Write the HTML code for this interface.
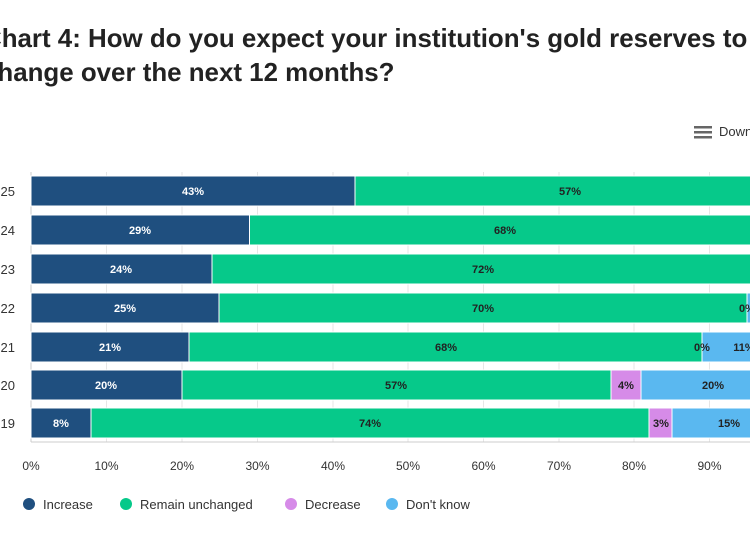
<!DOCTYPE html>
<html><head><meta charset="utf-8"><style>
body{margin:0;width:750px;height:536px;overflow:hidden;background:#fff;font-family:"Liberation Sans",Arial,sans-serif}
</style></head><body>
<svg width="750" height="536" xmlns="http://www.w3.org/2000/svg" font-family="Liberation Sans, Arial, sans-serif">
<text x="-17" y="47" font-size="25.9" font-weight="bold" fill="#222">Chart 4: How do you expect your institution's gold reserves to</text>
<text x="-17" y="81" font-size="25.9" font-weight="bold" fill="#222">change over the next 12 months?</text>
<g fill="#666"><rect x="694" y="126" width="18" height="2.5"/><rect x="694" y="131" width="18" height="2.5"/><rect x="694" y="136" width="18" height="2.5"/></g>
<text x="719" y="136" font-size="13" fill="#333">Download</text>
<g stroke="#e6e6e6" stroke-width="1">
<line x1="106.5" y1="172" x2="106.5" y2="442"/><line x1="182" y1="172" x2="182" y2="442"/><line x1="257.5" y1="172" x2="257.5" y2="442"/><line x1="333" y1="172" x2="333" y2="442"/><line x1="408" y1="172" x2="408" y2="442"/><line x1="483.5" y1="172" x2="483.5" y2="442"/><line x1="559" y1="172" x2="559" y2="442"/><line x1="634" y1="172" x2="634" y2="442"/><line x1="709.5" y1="172" x2="709.5" y2="442"/>
</g>
<line x1="31" y1="172" x2="31" y2="442" stroke="#ccc"/>
<line x1="31" y1="442" x2="750" y2="442" stroke="#ccc"/>
<g stroke="#fff" stroke-width="1">
<rect x="31" y="176" width="324" height="30" fill="#1f4f7f"/><rect x="355" y="176" width="430" height="30" fill="#06c98a"/>
<rect x="31" y="215" width="218.5" height="30" fill="#1f4f7f"/><rect x="249.5" y="215" width="512" height="30" fill="#06c98a"/><rect x="761.5" y="215" width="30" height="30" fill="#5ab8f0"/>
<rect x="31" y="254" width="181" height="30" fill="#1f4f7f"/><rect x="212" y="254" width="542" height="30" fill="#06c98a"/>
<rect x="31" y="293" width="188" height="30" fill="#1f4f7f"/><rect x="219" y="293" width="528" height="30" fill="#06c98a"/><rect x="747" y="293" width="40" height="30" fill="#5ab8f0"/>
<rect x="31" y="332" width="158" height="30" fill="#1f4f7f"/><rect x="189" y="332" width="513" height="30" fill="#06c98a"/><rect x="702" y="332" width="85" height="30" fill="#5ab8f0"/>
<rect x="31" y="370" width="151" height="30" fill="#1f4f7f"/><rect x="182" y="370" width="429" height="30" fill="#06c98a"/><rect x="611" y="370" width="30" height="30" fill="#d68be8"/><rect x="641" y="370" width="150" height="30" fill="#5ab8f0"/>
<rect x="31" y="408" width="60" height="30" fill="#1f4f7f"/><rect x="91" y="408" width="558" height="30" fill="#06c98a"/><rect x="649" y="408" width="23" height="30" fill="#d68be8"/><rect x="672" y="408" width="115" height="30" fill="#5ab8f0"/>
</g>
<g font-size="11" font-weight="bold" text-anchor="middle">
<g fill="#fff"><text x="193" y="195">43%</text><text x="140" y="234">29%</text><text x="121" y="273">24%</text><text x="125" y="312">25%</text><text x="110" y="351">21%</text><text x="106" y="389">20%</text><text x="61" y="427">8%</text></g>
<g fill="#222"><text x="570" y="195">57%</text><text x="505" y="234">68%</text><text x="483" y="273">72%</text><text x="483" y="312">70%</text><text x="446" y="351">68%</text><text x="396" y="389">57%</text><text x="370" y="427">74%</text>
<text x="747" y="312">0%</text><text x="702" y="351">0%</text><text x="744" y="351">11%</text><text x="626" y="389">4%</text><text x="713" y="389">20%</text><text x="661" y="427">3%</text><text x="729" y="427">15%</text></g>
</g>
<g font-size="13" fill="#333" text-anchor="end">
<text x="15" y="196">2025</text><text x="15" y="235">2024</text><text x="15" y="274">2023</text><text x="15" y="313">2022</text><text x="15" y="352">2021</text><text x="15" y="390">2020</text><text x="15" y="428">2019</text>
</g>
<g font-size="12" fill="#333" text-anchor="middle">
<text x="31" y="470">0%</text><text x="106.5" y="470">10%</text><text x="182" y="470">20%</text><text x="257.5" y="470">30%</text><text x="333" y="470">40%</text><text x="408" y="470">50%</text><text x="483.5" y="470">60%</text><text x="559" y="470">70%</text><text x="634" y="470">80%</text><text x="709.5" y="470">90%</text>
</g>
<g font-size="13" fill="#333">
<circle cx="29" cy="504" r="6" fill="#1f4f7f"/><text x="43" y="509">Increase</text>
<circle cx="126" cy="504" r="6" fill="#06c98a"/><text x="140" y="509">Remain unchanged</text>
<circle cx="291" cy="504" r="6" fill="#d68be8"/><text x="305" y="509">Decrease</text>
<circle cx="392" cy="504" r="6" fill="#5ab8f0"/><text x="406" y="509">Don't know</text>
</g>
</svg>
</body></html>
